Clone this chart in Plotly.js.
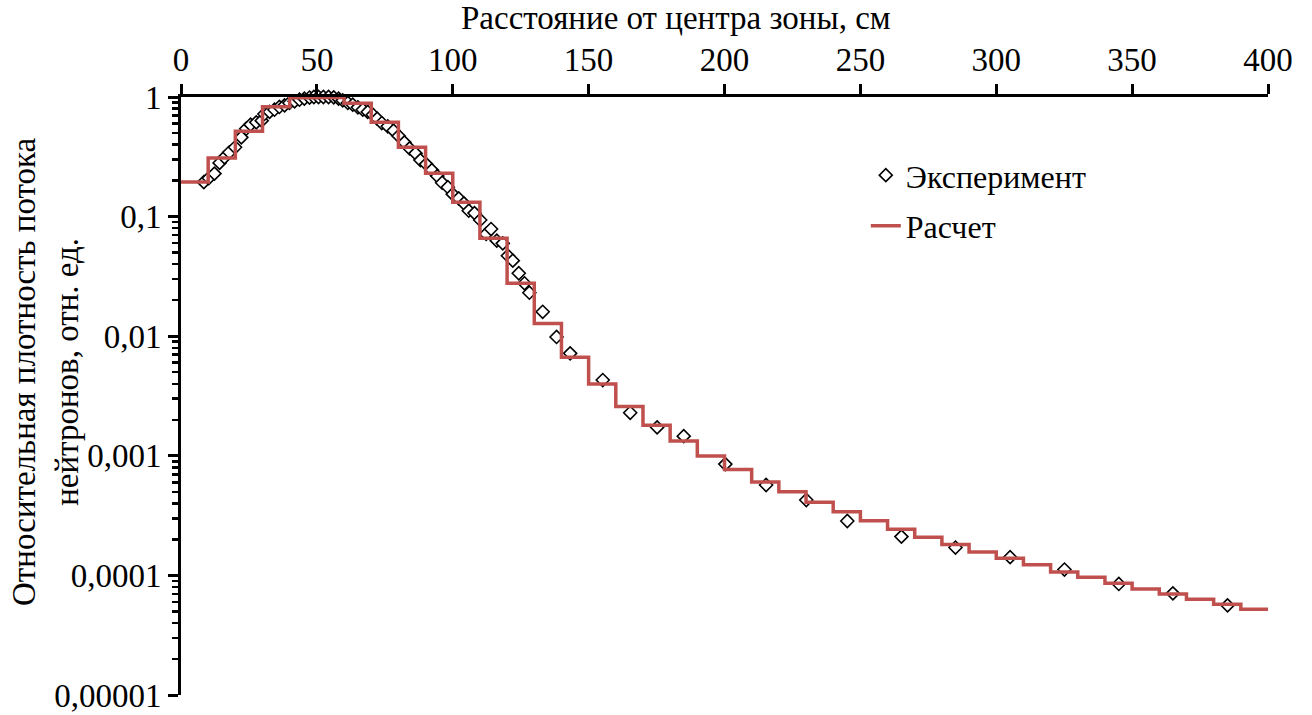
<!DOCTYPE html>
<html>
<head>
<meta charset="utf-8">
<script src="https://cdn.plot.ly/plotly-3.0.1.min.js"></script>
<style>
html,body{margin:0;padding:0;background:#fff;}
#chart{width:1312px;height:715px;}
</style>
</head>
<body>
<div id="chart"></div>
<script>
// Расчет: step values, each held from its left edge to the next (10 cm bins)
const calcX = [0,10,20,30,40,50,60,70,80,90,100,110,120,130,140,150,160,170,180,190,200,210,220,230,240,250,260,270,280,290,300,310,320,330,340,350,360,370,380,390,400];
const calcY = [0.195,0.309,0.517,0.83,0.985,0.99,0.885,0.614,0.380,0.230,0.132,0.0659,0.0277,0.0128,0.00667,0.00398,0.00258,0.00180,0.00133,0.000996,0.00077,0.000604,0.000501,0.000408,0.000341,0.000287,0.000243,0.000208,0.000181,0.000157,0.000139,0.000123,0.000107,0.0000964,0.0000859,0.0000769,0.0000699,0.0000631,0.0000573,0.0000521,0.0000521];

// Эксперимент
const expX = [8.4,10.2,12.3,14.2,16.0,17.8,19.9,22.2,24.0,25.6,27.7,29.7,30.7,32.6,34.4,36.2,38.1,39.9,41.8,43.6,45.4,47.3,48.9,50.6,52.4,54.3,56.2,58.0,59.5,61.4,63.2,65.1,66.9,68.7,70.6,72.2,73.9,76.1,78.2,80.1,82.2,84.1,86.3,88.1,90.2,92.3,94.3,96.1,98.2,100.0,102.2,104.1,105.9,108.0,110.1,112.3,114.1,116.2,118.4,120.3,122.1,124.3,126.4,128.2,133.1,138.2,143.2,155.2,165.3,175.2,185.0,200.3,215.3,230.1,245.2,265.1,285.0,305.1,325.1,345.1,365.0,385.1];
const expY = [0.194,0.210,0.229,0.281,0.313,0.345,0.380,0.460,0.543,0.587,0.614,0.634,0.721,0.750,0.783,0.825,0.852,0.891,0.920,0.949,0.968,0.99,1.0,1.0,1.0,1.0,0.994,0.968,0.938,0.891,0.862,0.820,0.783,0.750,0.711,0.659,0.606,0.569,0.523,0.472,0.418,0.372,0.338,0.297,0.275,0.245,0.218,0.192,0.176,0.154,0.142,0.129,0.112,0.107,0.0937,0.0716,0.0787,0.0629,0.0598,0.0471,0.0428,0.0336,0.0277,0.0231,0.0160,0.00985,0.00719,0.00430,0.00229,0.00173,0.00146,0.000853,0.000570,0.000427,0.000285,0.000211,0.000171,0.000142,0.000112,0.0000848,0.0000708,0.0000562];

const xTicks = [0,50,100,150,200,250,300,350,400];
const yTickVals = [0.00001,0.0001,0.001,0.01,0.1,1];
const yTickText = ['0,00001','0,0001','0,001','0,01','0,1','1'];

const xTitle = 'Расстояние от центра зоны, см';
const yTitle = 'Относительная плотность потока<br>нейтронов, отн. ед.';

const FONT = "Liberation Serif, Times New Roman, serif";
const FS = 33;

const traces = [
  {
    x: expX, y: expY, type: 'scatter', mode: 'markers', name: 'Эксперимент',
    legendgroup: 'a', cliponaxis: false,
    marker: {symbol: 'diamond', size: 10, color: '#ffffff', line: {color: '#000000', width: 1.6}}
  },
  {
    x: calcX, y: calcY, type: 'scatter', mode: 'lines', name: 'Расчет',
    legendgroup: 'b', cliponaxis: false,
    line: {shape: 'hv', color: '#C0504D', width: 3.5}
  }
];

const layout = {
  width: 1312, height: 715,
  margin: {l: 181, r: 44, t: 97, b: 20},
  paper_bgcolor: '#ffffff', plot_bgcolor: '#ffffff',
  font: {family: FONT, size: FS, color: '#000000'},
  showlegend: true,
  legend: {
    x: 0.63, y: 0.915, xanchor: 'left', yanchor: 'top',
    bgcolor: 'rgba(0,0,0,0)', font: {family: FONT, size: 32, color: '#000'},
    tracegroupgap: 6, traceorder: 'grouped'
  },
  xaxis: {
    side: 'top', range: [0, 400], tickvals: xTicks,
    showgrid: false, zeroline: false,
    showline: true, linecolor: '#000', linewidth: 3,
    ticks: 'outside', ticklen: 10, tickwidth: 3, tickcolor: '#000',
    tickfont: {family: FONT, size: FS, color: '#000'}
  },
  yaxis: {
    type: 'log', range: [-5, 0], tickvals: yTickVals, ticktext: yTickText,
    showgrid: false, zeroline: false,
    showline: true, linecolor: '#000', linewidth: 3,
    ticks: 'outside', ticklen: 10, tickwidth: 3, tickcolor: '#000',
    minor: {dtick: 'D1', ticks: 'outside', ticklen: 6, tickwidth: 2.5, tickcolor: '#000', showgrid: false},
    tickfont: {family: FONT, size: FS, color: '#000'}
  },
  annotations: [
    {text: xTitle, xref: 'paper', yref: 'paper', x: (676-181)/1087, y: 1 + (97-18)/598,
     xanchor: 'center', yanchor: 'middle', showarrow: false,
     font: {family: FONT, size: FS, color: '#000'}},
    {text: yTitle, xref: 'paper', yref: 'paper', x: (45-181)/1087, y: 1 - (372-97)/598,
     xanchor: 'center', yanchor: 'middle', showarrow: false, textangle: -90,
     font: {family: FONT, size: FS, color: '#000'}}
  ]
};

Plotly.newPlot('chart', traces, layout, {displayModeBar: false, staticPlot: true});
</script>
</body>
</html>
